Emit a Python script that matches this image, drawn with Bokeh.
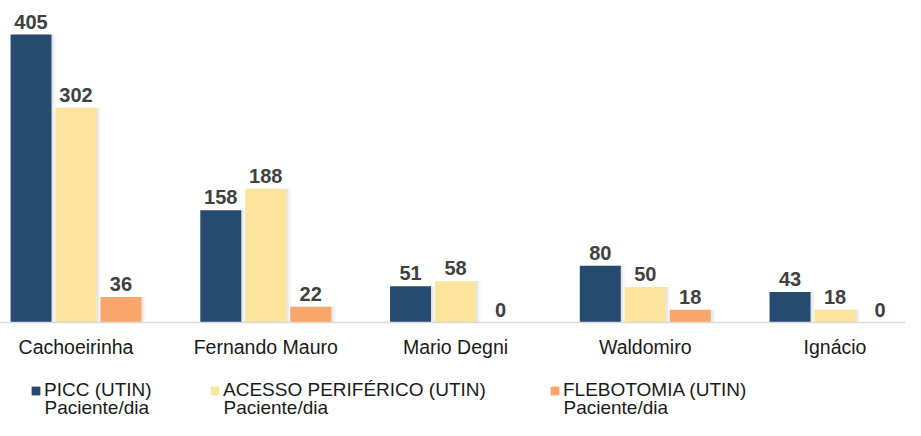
from bokeh.plotting import figure
from bokeh.layouts import column
from bokeh.models import ColumnDataSource, Range1d, FixedTicker, Legend, LegendItem
from bokeh.transform import dodge
from bokeh.core.properties import value
from bokeh.embed import file_html
from bokeh.resources import INLINE

categories = ["Cachoeirinha", "Fernando Mauro", "Mario Degni", "Waldomiro", "Ignácio"]
picc = [405, 158, 51, 80, 43]
acesso = [302, 188, 58, 50, 18]
flebotomia = [36, 22, 0, 18, 0]
series_names = ["PICC (UTIN)", "ACESSO PERIFÉRICO (UTIN)", "FLEBOTOMIA (UTIN)"]
series_unit = ["Paciente/dia", "Paciente/dia", "Paciente/dia"]
colors = ["#264B6E", "#FBE49B", "#F9A66B"]

idx = list(range(len(categories)))
src = ColumnDataSource(dict(
    x=idx,
    picc=picc, acesso=acesso, fleb=flebotomia,
    picc_t=[str(v) for v in picc],
    acesso_t=[str(v) for v in acesso],
    fleb_t=[str(v) for v in flebotomia],
))

FONT = "Liberation Sans"
W = 905
p = figure(width=W, height=360, output_backend="svg", toolbar_location=None,
           x_range=Range1d(-0.3979, 4.3715), y_range=Range1d(0, 453),
           y_axis_location=None, min_border_left=0, min_border_right=0,
           min_border_top=0, min_border_bottom=38)
p.outline_line_color = None
p.xgrid.visible = False
p.ygrid.visible = False

bw = 0.216
off = 0.237
fields = [("picc", "picc_t", -off), ("acesso", "acesso_t", 0.0), ("fleb", "fleb_t", off)]
for f, ft, o in fields:
    # soft shadow to the right of each bar
    for sh, a in [(0.012, 0.10), (0.024, 0.05)]:
        p.vbar(x=dodge("x", o + sh, range=p.x_range), top=f, width=bw, source=src,
               fill_color="#606060", fill_alpha=a, line_color=None)
for (f, ft, o), c in zip(fields, colors):
    p.vbar(x=dodge("x", o, range=p.x_range), top=f, width=bw, source=src,
           fill_color=c, line_color=None)
    p.text(x=dodge("x", o, range=p.x_range), y=f, text=ft, source=src,
           text_align="center", text_baseline="alphabetic", y_offset=-13,
           text_font=value(FONT), text_font_style="bold", text_font_size="20px",
           text_color="#404040")

ax = p.xaxis[0]
ax.ticker = FixedTicker(ticks=idx)
ax.major_label_overrides = {i: c for i, c in zip(idx, categories)}
ax.major_tick_line_color = None
ax.minor_tick_line_color = None
ax.axis_line_color = "#D9D9D9"
ax.axis_line_width = 1.5
ax.major_label_standoff = 7
ax.major_label_text_font = FONT
ax.major_label_text_font_size = "19.5px"
ax.major_label_text_color = "#1A1A1A"

# legend strip
H2 = 60
p2 = figure(width=W, height=H2, output_backend="svg", toolbar_location=None,
            x_range=Range1d(0, W), y_range=Range1d(10000, 10000 + H2),
            x_axis_location=None, y_axis_location=None,
            min_border=0)
p2.outline_line_color = None
p2.xgrid.visible = False
p2.ygrid.visible = False
leg_r = []
for f, c in zip(["picc", "acesso", "fleb"], colors):
    leg_r.append(p2.vbar(x="x", top=f, width=bw, source=src,
                         fill_color=c, line_color=None))

legend_x = [30, 209, 549]
for r, lab, lx in zip(leg_r, series_names, legend_x):
    lg = Legend(items=[LegendItem(label=lab, renderers=[r])], location=(lx, 19),
                orientation="horizontal", padding=0, margin=0, border_line_color=None,
                background_fill_alpha=0, glyph_width=11, glyph_height=11,
                label_standoff=3, label_text_font=FONT, label_text_font_size="19px",
                label_text_color="#1A1A1A")
    p2.add_layout(lg)

unit_src = ColumnDataSource(dict(x=[lx + 14 for lx in legend_x],
                                 y=[10000 + 13] * 3, t=series_unit))
p2.text(x="x", y="y", text="t", source=unit_src, text_align="left",
        text_baseline="middle", text_font=value(FONT), text_font_size="19px",
        text_color="#1A1A1A")

layout = column(p, p2, spacing=0)
open("out.html", "w").write(file_html(layout, INLINE))
